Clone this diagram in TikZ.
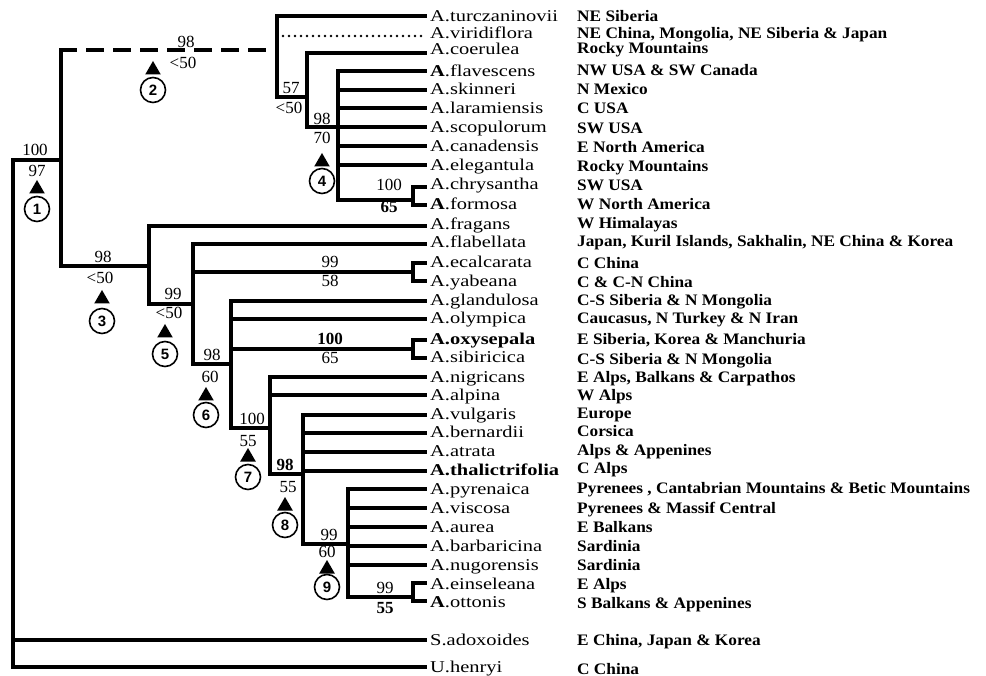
\documentclass[tikz,border=0pt]{standalone}
\usepackage{fontspec}
\setmainfont{Liberation Serif}
\newfontfamily\spfont[FakeStretch=1.24]{Liberation Serif}
\newfontfamily\dsfont[FakeStretch=1.08]{Liberation Serif}
\newfontfamily\cnfont{Liberation Sans}
\usetikzlibrary{shapes.geometric}
\begin{document}
\begin{tikzpicture}[x=1pt,y=-1pt,
  br/.style={line width=3.3pt,line cap=rect},
  dashline/.style={line width=3.3pt,line cap=rect,dash pattern=on 14pt off 13pt},
  dotline/.style={line width=2.8pt,line cap=round,dash pattern=on 0pt off 6pt},
  sp/.style={anchor=base west,inner sep=0pt,font=\spfont\fontsize{16.5}{17}\selectfont},
  ds/.style={anchor=base west,inner sep=0pt,font=\dsfont\bfseries\fontsize{16}{17}\selectfont},
  bs/.style={inner sep=0pt,font=\fontsize{17}{17}\selectfont},
  bsb/.style={inner sep=0pt,font=\bfseries\fontsize{17}{17}\selectfont},
  tri/.style={regular polygon,regular polygon sides=3,fill=black,inner sep=0pt,minimum size=18pt},
  circ/.style={circle,draw,line width=1.6pt,inner sep=0pt,minimum size=25pt,font=\cnfont\bfseries\fontsize{15}{15}\selectfont}]
\useasboundingbox (0,0) rectangle (986,676);

% leaf tips
\foreach \y [count=\i from 0] in {16,36,53,71,90,108,127,146,165,187,205,226,244,263,281,301,319,340,358,377,395,415,433,452,471,489,508,527,546,565,583,601,640,667}
  \coordinate (L\i) at (425,\y);

% internal points
\coordinate (root) at (13,160);
\coordinate (n1) at (61,160);
\coordinate (n2a) at (61,50);
\coordinate (n3a) at (61,266);
\coordinate (n2) at (277,50);
\coordinate (nA) at (277,97);
\coordinate (nB) at (307,97);
\coordinate (nBb) at (307,127);
\coordinate (nC) at (338,127);
\coordinate (nCb) at (338,200);
\coordinate (brk1) at (413,200);
\coordinate (vstart) at (283,36);
\coordinate (n3) at (149,266);
\coordinate (n5a) at (149,304);
\coordinate (n5) at (193,304);
\coordinate (brk2) at (413,272);
\coordinate (n6a) at (193,364);
\coordinate (n6) at (231,364);
\coordinate (brk3) at (413,349);
\coordinate (n7a) at (231,428);
\coordinate (n7) at (270,428);
\coordinate (n8a) at (270,474);
\coordinate (n8) at (303,474);
\coordinate (n9a) at (303,544);
\coordinate (n9) at (348,544);
\coordinate (brk4a) at (348,597);
\coordinate (brk4) at (413,597);

% root and outgroups
\draw[br] (root) -- (L33 -| root) -- (L33);
\draw[br] (L32 -| root) -- (L32);
\draw[br] (root) -- (n1);
\draw[br] (n2a) -- (n3a);
\draw[dashline] (n2a) -- (n2);

% North American / East Asian clade
\draw[br] (n2 |- L0) -- (nA) -- (nB);
\draw[br] (n2 |- L0) -- (L0);
\draw[dotline] (vstart) -- (L1);
\draw[br] (nB |- L2) -- (nBb) -- (nC);
\draw[br] (nB |- L2) -- (L2);
\draw[br] (nC |- L3) -- (nCb) -- (brk1);
\foreach \i in {3,...,8} \draw[br] (nC |- L\i) -- (L\i);
\draw[br] (brk1 |- L9) -- (brk1 |- L10);
\draw[br] (brk1 |- L9) -- (L9);
\draw[br] (brk1 |- L10) -- (L10);

% Eurasian clade
\draw[br] (n3a) -- (n3);
\draw[br] (n3 |- L11) -- (n5a) -- (n5);
\draw[br] (n3 |- L11) -- (L11);
\draw[br] (n5 |- L12) -- (n6a) -- (n6);
\draw[br] (n5 |- L12) -- (L12);
\draw[br] (n5 |- brk2) -- (brk2);
\draw[br] (brk2 |- L13) -- (brk2 |- L14);
\draw[br] (brk2 |- L13) -- (L13);
\draw[br] (brk2 |- L14) -- (L14);
\draw[br] (n6 |- L15) -- (n7a) -- (n7);
\foreach \i in {15,16} \draw[br] (n6 |- L\i) -- (L\i);
\draw[br] (n6 |- brk3) -- (brk3);
\draw[br] (brk3 |- L17) -- (brk3 |- L18);
\draw[br] (brk3 |- L17) -- (L17);
\draw[br] (brk3 |- L18) -- (L18);
\draw[br] (n7 |- L19) -- (n8a) -- (n8);
\foreach \i in {19,20} \draw[br] (n7 |- L\i) -- (L\i);
\draw[br] (n8 |- L21) -- (n9a) -- (n9);
\foreach \i in {21,...,24} \draw[br] (n8 |- L\i) -- (L\i);
\draw[br] (n9 |- L25) -- (brk4a) -- (brk4);
\foreach \i in {25,...,29} \draw[br] (n9 |- L\i) -- (L\i);
\draw[br] (brk4 |- L30) -- (brk4 |- L31);
\draw[br] (brk4 |- L30) -- (L30);
\draw[br] (brk4 |- L31) -- (L31);

% support values
\node[bs] (v1a) at (35,150) {100};
\node[bs] (v1b) at (37,171) {97};
\node[bs] (v2a) at (186,42) {98};
\node[bs] (v2b) at (183,63) {<50};
\node[bs] (vAa) at (291,88) {57};
\node[bs] (vAb) at (289,108) {<50};
\node[bs] (v4a) at (322,119) {98};
\node[bs] (v4b) at (322,138) {70};
\node[bs] (vfa) at (389,185) {100};
\node[bsb] (vfb) at (389,207) {65};
\node[bs] (v3a) at (103,257) {98};
\node[bs] (v3b) at (100,278) {<50};
\node[bs] (v5a) at (173,294) {99};
\node[bs] (v5b) at (169,313) {<50};
\node[bs] (vea) at (330,262) {99};
\node[bs] (veb) at (330,281) {58};
\node[bs] (v6a) at (212,355) {98};
\node[bs] (v6b) at (210,377) {60};
\node[bsb] (voa) at (330,339) {100};
\node[bs] (vob) at (330,358) {65};
\node[bs] (v7a) at (252,419) {100};
\node[bs] (v7b) at (248,441) {55};
\node[bsb] (v8a) at (285,465) {98};
\node[bs] (v8b) at (288,487) {55};
\node[bs] (v9a) at (329,535) {99};
\node[bs] (v9b) at (327,552) {60};
\node[bs] (vta) at (385,588) {99};
\node[bsb] (vtb) at (385,608) {55};

% triangles and circled numbers
\foreach \x/\y/\c/\n in {37/189/209/1,153/70/90/2,102/299/321/3,322/162/181/4,165/333/354/5,206/396/415/6,248/457/477/7,285/506/525/8,327/569/587/9}{
  \node[tri] (t\n) at (\x,\y) {};
  \node[circ] (c\n) at (\x,\c) {\n};
}

% taxa
\foreach \y/\t [count=\i from 0] in {
 16/{A.turczaninovii},33/{A.viridiflora},49/{A.coerulea},71/{\textbf{A}.flavescens},
 89/{A.skinneri},108/{A.laramiensis},127/{A.scopulorum},146/{A.canadensis},
 165/{A.elegantula},184/{A.chrysantha},204/{\textbf{A}.formosa},224/{A.fragans},
 242/{A.flabellata},262/{A.ecalcarata},281/{A.yabeana},300/{A.glandulosa},
 318/{A.olympica},339/{\textbf{A.oxysepala}},357/{A.sibiricica},377/{A.nigricans},
 395/{A.alpina},414/{A.vulgaris},432/{A.bernardii},451/{A.atrata},
 470/{\textbf{A.thalictrifolia}},489/{A.pyrenaica},508/{A.viscosa},527/{A.aurea},
 546/{A.barbaricina},565/{A.nugorensis},584/{A.einseleana},602/{\textbf{A}.ottonis},
 640/{S.adoxoides},667/{U.henryi}}
  \node[sp] (s\i) at (430,\y+5.5) {\t};

% distributions
\foreach \y/\t [count=\i from 0] in {
 16/{NE Siberia},33/{NE China, Mongolia, NE Siberia \& Japan},48/{Rocky Mountains},
 70/{NW USA \& SW Canada},89/{N Mexico},108/{C USA},128/{SW USA},147/{E North America},
 166/{Rocky Mountains},185/{SW USA},204/{W North America},223/{W Himalayas},
 241/{Japan, Kuril Islands, Sakhalin, NE China \& Korea},263/{C China},282/{C \& C-N China},
 300/{C-S Siberia \& N Mongolia},318/{Caucasus, N Turkey \& N Iran},339/{E Siberia, Korea \& Manchuria},
 359/{C-S Siberia \& N Mongolia},377/{E Alps, Balkans \& Carpathos},395/{W Alps},413/{Europe},
 431/{Corsica},450/{Alps \& Appenines},468/{C Alps},488/{Pyrenees , Cantabrian Mountains \& Betic Mountains},
 508/{Pyrenees \& Massif Central},527/{E Balkans},546/{Sardinia},565/{Sardinia},584/{E Alps},
 603/{S Balkans \& Appenines},640/{E China, Japan \& Korea},669/{C China}}
  \node[ds] (d\i) at (577,\y+5.5) {\t};
\end{tikzpicture}
\end{document}
